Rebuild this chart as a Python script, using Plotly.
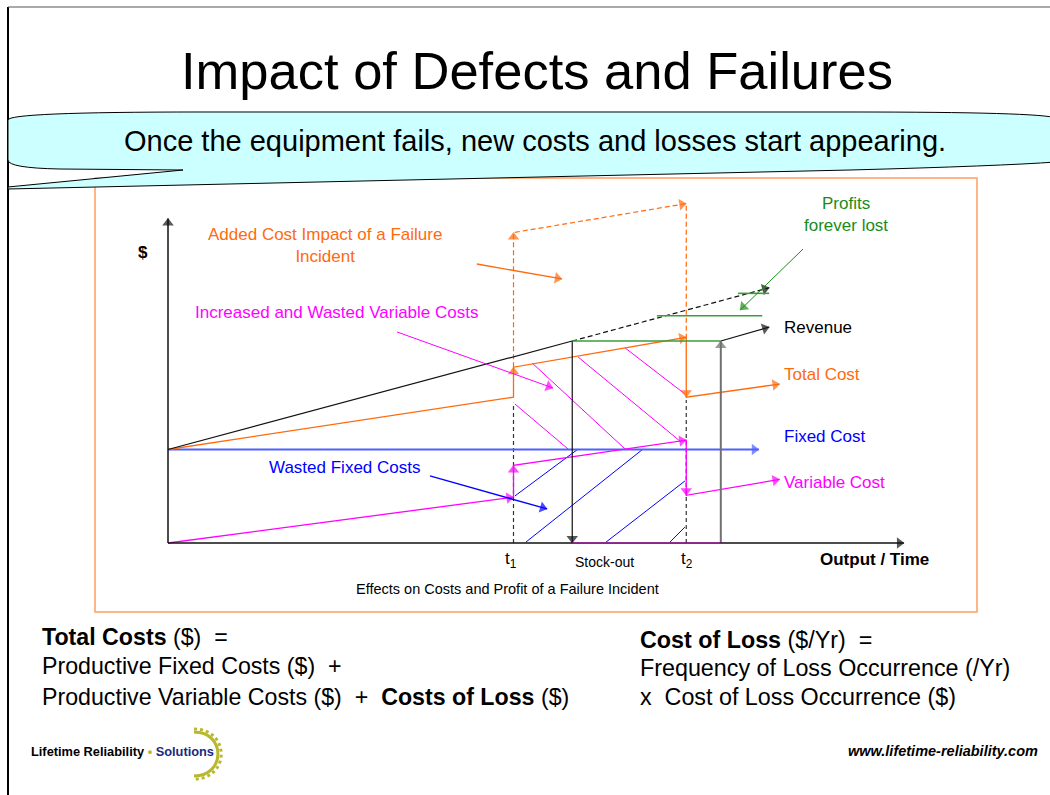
import plotly.graph_objects as go

W, H = 1050, 795
FONT = "Liberation Sans, Arial, sans-serif"

# ---------------- data (time units: t1 = 100, t2 = 150 ; $ units: fixed cost = 100) -------------
T1, T2 = 100, 150
T_STOCKOUT, T_RESTOCK = 117, 160
AXIS_T_MAX, AXIS_V_MAX = 213, 347

fixed_t = [0, 171]
fixed_v = [100, 100]

var_t = [0, 100, 100, 150, 150, 177]
var_v = [0, 49, 83, 110, 51, 68]

total_t = [0, 100, 100, 150, 150, 177]
total_v = [100, 156, 188, 220, 156, 170]

added_t = [100, 100, 150, 150]
added_v = [188, 332, 363, 220]

rev_t = [0, 117]
rev_v = [100, 216]
rev_lost_t = [117, 174]
rev_lost_v = [216, 273]
rev_after_t = [160, 174]
rev_after_v = [216, 231]
stockout_top = 216
restock_top = 216
t1_guide_top = 150
t2_guide_top = 153

profit_lost_t0 = [117, 141.5, 165]
profit_lost_t1 = [160, 172, 174]
profit_lost_v = [216, 243, 267]

var_hatch_t0 = [100.4, 105.4, 118.7, 132.3]
var_hatch_v0 = [148.7, 192.5, 198.9, 208.6]
var_hatch_t1 = [115.8, 132.3, 148.5, 149.6]
var_hatch_v1 = [100.5, 100.5, 108.0, 159.4]

fix_hatch_t0 = [100.4, 103.6, 126.8, 145.3]
fix_hatch_v0 = [50.3, 1.0, 1.0, 1.0]
fix_hatch_t1 = [118.7, 137.5, 149.6, 149.6]
fix_hatch_v1 = [100.5, 100.5, 66.3, 17.0]

# label pointers (start -> end)
ptr_added_t, ptr_added_v = [89.4, 114.0], [298.4, 282.4]
ptr_var_t, ptr_var_v = [66.3, 111.4], [225.7, 165.8]
ptr_fix_t, ptr_fix_v = [75.8, 109.7], [71.7, 36.4]
ptr_profit_t, ptr_profit_v = [183.8, 165.6], [314.4, 249.2]

# ---------------- colours ----------------
ORANGE = "#FF6A0D"
MAGENTA = "#FF00FF"
BLUE = "#0000FF"
FIXBLUE = "#5060FF"
GREEN_L = "#3A9E3A"
GREEN_T = "#1A8C1A"

# ---------------- geometry of the diagram frame ----------------
KX, KY = 3.455, 0.935          # pixels per data unit
OX, OY = 168, 543              # pixel position of the diagram origin


def px(x):
    return x / W


def py(y):
    return 1 - y / H


fig = go.Figure()


def line(xs, ys, color, width=1.2, dash="solid", arrows=(), size=10, opacity=1.0):
    fig.add_trace(go.Scatter(
        x=xs, y=ys, mode="lines", line=dict(color=color, width=width, dash=dash),
        opacity=opacity, hoverinfo="skip", showlegend=False))
    if arrows:
        sizes = [size if i in arrows else 0 for i in range(len(xs))]
        fig.add_trace(go.Scatter(
            x=xs, y=ys, mode="markers",
            marker=dict(symbol="triangle-up", angleref="previous", size=sizes, color=color,
                        standoff=size * 0.45, line=dict(width=0)),
            opacity=opacity, hoverinfo="skip", showlegend=False))


def segments(t0, v0, t1, v1, color, width=1.0):
    xs, ys = [], []
    for a, b, c, d in zip(t0, v0, t1, v1):
        xs += [a, c, None]
        ys += [b, d, None]
    fig.add_trace(go.Scatter(x=xs, y=ys, mode="lines", line=dict(color=color, width=width),
                             hoverinfo="skip", showlegend=False))


# hatching
segments(var_hatch_t0, var_hatch_v0, var_hatch_t1, var_hatch_v1, MAGENTA, 1.0)
segments(fix_hatch_t0, fix_hatch_v0, fix_hatch_t1, fix_hatch_v1, BLUE, 1.0)

# guides at t1 / t2
line([T1, T1], [0, t1_guide_top], "#333333", 1.2, dash="4px,3px")
line([T2, T2], [0, t2_guide_top], "#333333", 1.2, dash="4px,3px")

# fixed cost
line(fixed_t, fixed_v, FIXBLUE, 2.0, arrows=(1,))
# variable cost
line(var_t, var_v, MAGENTA, 1.3, arrows=(1, 2, 3, 4, 5))
# added cost (dashed)
line(added_t, added_v, ORANGE, 1.2, dash="5px,3px", arrows=(1, 2))
# total cost
line(total_t, total_v, ORANGE, 1.3, arrows=(2, 3, 4, 5))

# revenue
line(rev_t, rev_v, "#111111", 1.2)
line(rev_lost_t, rev_lost_v, "#111111", 1.2, dash="5px,3px", arrows=(1,))
line(rev_after_t, rev_after_v, "#111111", 1.2, arrows=(1,))
line([T_STOCKOUT, T_STOCKOUT], [stockout_top, 0], "#111111", 1.2, arrows=(1,))
line([T_RESTOCK, T_RESTOCK], [0, restock_top], "#707070", 2.0, arrows=(1,))

# profits lost
segments(profit_lost_t0, profit_lost_v, profit_lost_t1, profit_lost_v, GREEN_L, 1.6)

# pointers
line(ptr_added_t, ptr_added_v, ORANGE, 1.3, arrows=(1,))
line(ptr_var_t, ptr_var_v, MAGENTA, 1.0, arrows=(1,))
line(ptr_fix_t, ptr_fix_v, BLUE, 1.3, arrows=(1,))
line(ptr_profit_t, ptr_profit_v, GREEN_T, 1.0, arrows=(1,))

# axes
line([0, AXIS_T_MAX], [0, 0], "#111111", 1.5, arrows=(1,))
line([0, 0], [0, AXIS_V_MAX], "#111111", 1.5, arrows=(1,))
line([T_STOCKOUT, T_RESTOCK], [0.3, 0.3], MAGENTA, 0.8, opacity=0.6)

# ---------------- shapes (slide decoration) ----------------
shapes = []
# slide frame
shapes.append(dict(type="line", xref="paper", yref="paper", x0=px(8), x1=px(8), y0=py(7), y1=py(800),
                   line=dict(color="#000000", width=2)))
shapes.append(dict(type="line", xref="paper", yref="paper", x0=px(8), x1=px(1055), y0=py(7), y1=py(7),
                   line=dict(color="#555555", width=1)))
# orange frame of the diagram
shapes.append(dict(type="rect", xref="paper", yref="paper", x0=px(95), x1=px(977), y0=py(178), y1=py(612),
                   line=dict(color="#FF9F5F", width=1.5)))


def pth(cmds):
    out = []
    for c in cmds:
        if isinstance(c, str):
            out.append(c)
        else:
            out.append(f"{px(c[0]):.5f},{py(c[1]):.5f}")
    return " ".join(out)


bubble = pth(["M", (8, 120), "Q", (8, 112), (200, 112), "L", (850, 112), "Q", (1040, 112), (1056, 118),
              "L", (1056, 162), "Q", (1000, 166), (850, 170), "L", (8, 189), "L", (8, 187), "L", (183, 170),
              "L", (60, 169), "Q", (8, 168), (8, 160), "Z"])
shapes.append(dict(type="path", xref="paper", yref="paper", path=bubble, fillcolor="#CCFFFF",
                   line=dict(color="#000000", width=1)))

# logo gear arc
cx, cy, r = 194, 754, 22
arc = pth(["M", (cx, cy - r), "C", (cx + 1.45 * r, cy - r), (cx + 1.45 * r, cy + r), (cx, cy + r)])
shapes.append(dict(type="path", xref="paper", yref="paper", path=arc, line=dict(color="#B8B830", width=3)))
r2 = r + 3
arc2 = pth(["M", (cx, cy - r2), "C", (cx + 1.45 * r2, cy - r2), (cx + 1.45 * r2, cy + r2), (cx, cy + r2)])
shapes.append(dict(type="path", xref="paper", yref="paper", path=arc2,
                   line=dict(color="#B8B830", width=3, dash="3px,3px")))

# ---------------- text ----------------
ann = []


def text(x, y, s, size, color="#000000", xanchor="center", yanchor="middle"):
    ann.append(dict(x=px(x), y=py(y), xref="paper", yref="paper", text=s, showarrow=False,
                    xanchor=xanchor, yanchor=yanchor, align="center" if xanchor == "center" else "left",
                    font=dict(family=FONT, size=size, color=color)))


text(537, 71, "Impact of Defects and Failures", 52.5)
text(535, 141, "Once the equipment fails, new costs and losses start appearing.", 29)

text(143, 253, "<b>$</b>", 17)
text(325, 246, "Added Cost Impact of a Failure<br>Incident", 17, ORANGE)
text(336, 312, "Increased and Wasted Variable Costs", 17, MAGENTA)
text(344, 467, "Wasted Fixed Costs", 17, BLUE)
text(846, 215, "Profits<br>forever lost", 17, GREEN_T)
text(782, 327, "Revenue", 17, "#000000", xanchor="left")
text(782, 374, "Total Cost", 17, ORANGE, xanchor="left")
text(782, 436, "Fixed Cost", 17, BLUE, xanchor="left")
text(782, 482, "Variable Cost", 17, MAGENTA, xanchor="left")
text(511, 560, "t<sub>1</sub>", 17)
text(687, 560, "t<sub>2</sub>", 17)
text(604, 562, "Stock-out", 14)
text(874, 559, "<b>Output / Time</b>", 17)
text(507, 589, "Effects on Costs and Profit of a Failure Incident", 14.5)

text(40, 637, "<b>Total Costs</b> ($)  =", 23.2, xanchor="left")
text(40, 666, "Productive Fixed Costs ($)  +", 23.2, xanchor="left")
text(40, 697, "Productive Variable Costs ($)  +  <b>Costs of Loss</b> ($)", 23.2, xanchor="left")
text(638, 640, "<b>Cost of Loss</b> ($/Yr)  =", 23.3, xanchor="left")
text(638, 668, "Frequency of Loss Occurrence (/Yr)", 23.3, xanchor="left")
text(638, 697, "x  Cost of Loss Occurrence ($)", 23.3, xanchor="left")

text(29, 751, "<b>Lifetime Reliability <span style='color:#B8B830'>•</span> "
     "<span style='color:#1A2A80'>Solutions</span></b>", 12.8, xanchor="left")
text(1040, 751, "<b><i>www.lifetime-reliability.com</i></b>", 14.5, xanchor="right")

fig.update_layout(
    width=W, height=H, autosize=False,
    margin=dict(l=0, r=0, t=0, b=0, pad=0),
    paper_bgcolor="white", plot_bgcolor="white",
    xaxis=dict(range=[-OX / KX, (W - OX) / KX], visible=False, fixedrange=True),
    yaxis=dict(range=[-(H - OY) / KY, OY / KY], visible=False, fixedrange=True),
    shapes=shapes, annotations=ann, showlegend=False,
)

fig.write_html("out.html", config={"displayModeBar": False, "staticPlot": True},
               post_script="document.body.style.margin='0';document.body.style.overflow='hidden';")
